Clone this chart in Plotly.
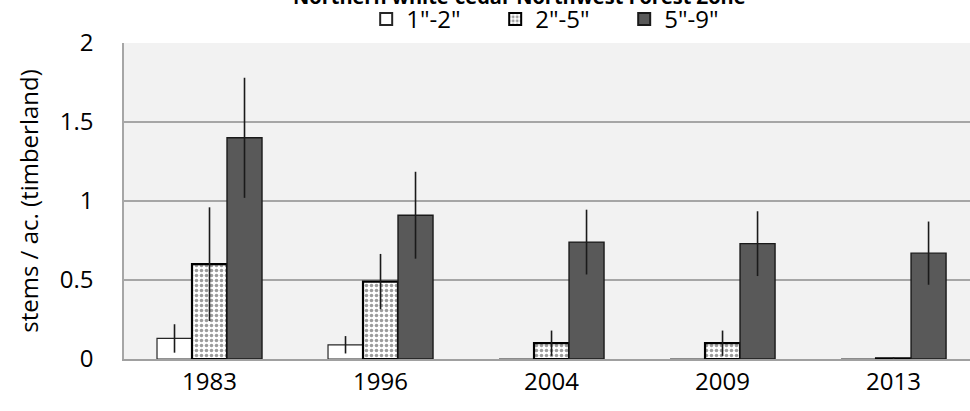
import plotly.graph_objects as go

years = ["1983", "1996", "2004", "2009", "2013"]
series_names = ['1"-2"', '2"-5"', '5"-9"']
v_1_2 = [0.13, 0.09, 0.0, 0.0, 0.0]
e_1_2 = [0.09, 0.055, 0.0, 0.0, 0.0]
v_2_5 = [0.60, 0.49, 0.10, 0.10, 0.004]
e_2_5 = [0.36, 0.175, 0.08, 0.08, 0.006]
v_5_9 = [1.40, 0.91, 0.74, 0.73, 0.67]
e_5_9 = [0.38, 0.275, 0.205, 0.205, 0.20]
y_ticks = [0, 0.5, 1, 1.5, 2]
y_labels = ["0", "0.5", "1", "1.5", "2"]

FONT = "Open Sans"
err_style = dict(type="data", visible=True, color="#1a1a1a", thickness=1.6, width=0)

fig = go.Figure()
fig.add_trace(go.Bar(
    x=years, y=v_1_2, name=series_names[0],
    marker=dict(color="#ffffff", line=dict(color="#262626", width=1.2)),
    error_y=dict(array=e_1_2, **err_style),
))
fig.add_trace(go.Bar(
    x=years, y=v_2_5, name=series_names[1],
    marker=dict(color="#ffffff", line=dict(color="#000000", width=2.2),
                pattern=dict(shape=".", fgcolor="#3a3a3a", bgcolor="#ffffff",
                             size=5, solidity=0.4, fillmode="overlay")),
    error_y=dict(array=e_2_5, **err_style),
))
fig.add_trace(go.Bar(
    x=years, y=v_5_9, name=series_names[2],
    marker=dict(color="#595959", line=dict(color="#1a1a1a", width=1.4)),
    error_y=dict(array=e_5_9, **err_style),
))

fig.add_annotation(
    text="<b>Northern white-cedar Northwest Forest Zone</b>",
    xref="paper", yref="paper", x=0.468, y=1.097, xanchor="center", yanchor="bottom",
    showarrow=False, font=dict(family=FONT, size=20, color="#000000"),
)

fig.update_layout(
    width=970, height=411,
    margin=dict(l=124, r=0, t=43, b=52, autoexpand=False),
    paper_bgcolor="#ffffff",
    plot_bgcolor="#f2f2f2",
    barmode="group",
    bargap=0.386,
    bargroupgap=0,
    font=dict(family=FONT, size=24, color="#000000"),
    legend=dict(orientation="h", x=0.515, xanchor="center", y=1.075, yanchor="middle",
                font=dict(family=FONT, size=24, color="#000000"),
                bgcolor="rgba(0,0,0,0)", itemwidth=30, traceorder="normal",
                itemsizing="constant", tracegroupgap=0, entrywidth=84),
    showlegend=True,
)
fig.update_xaxes(
    type="category", range=[-0.5, 4.447],
    showgrid=False, showline=True, linecolor="#a0a0a0", linewidth=2,
    ticks="", tickfont=dict(family=FONT, size=24, color="#000000"),
    ticklabelstandoff=0,
)
fig.update_yaxes(
    range=[0, 2], tickvals=y_ticks, ticktext=y_labels,
    showgrid=True, gridcolor="#a6a6a6", gridwidth=1.5,
    showline=True, linecolor="#a6a6a6", linewidth=1.5, mirror=True,
    zeroline=False, ticks="",
    tickfont=dict(family=FONT, size=24, color="#000000"),
    ticklabelstandoff=24,
    title=dict(text="stems / ac. (timberland)", standoff=14,
               font=dict(family=FONT, size=24, color="#000000")),
)

fig.write_html("out.html")
